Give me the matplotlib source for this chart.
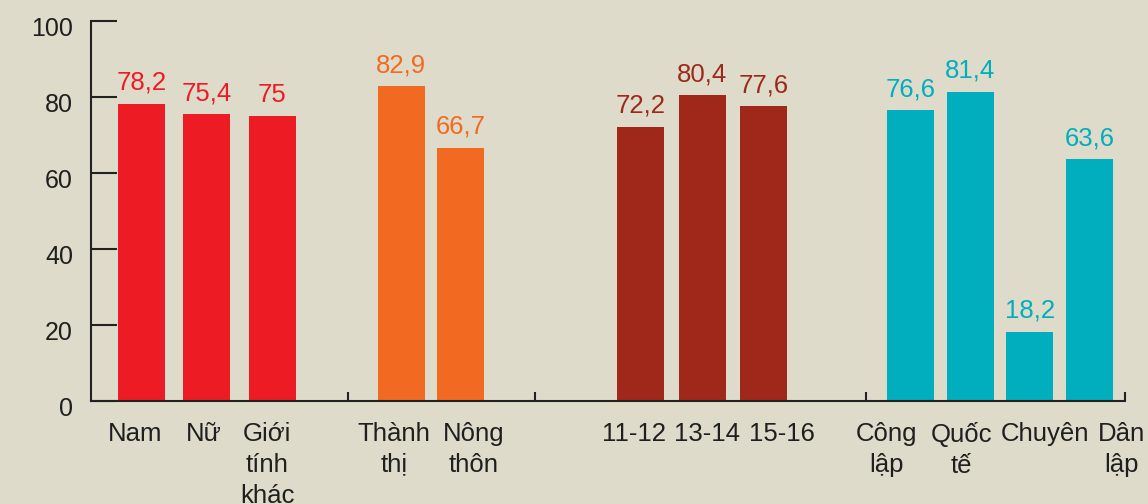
import matplotlib
matplotlib.use("Agg")
import matplotlib.pyplot as plt
import matplotlib.transforms as mtransforms

# nhóm: giới tính, khu vực, độ tuổi, loại trường
gioi_tinh = ["Nam", "Nữ", "Giới\ntính\nkhác"]
gioi_tinh_pct = [78.2, 75.4, 75]

khu_vuc = ["Thành\nthị", "Nông\nthôn"]
khu_vuc_pct = [82.9, 66.7]

do_tuoi = ["11-12", "13-14", "15-16"]
do_tuoi_pct = [72.2, 80.4, 77.6]

loai_truong = ["Công\nlập", "Quốc\ntế", "Chuyên", "Dân\nlập"]
loai_truong_pct = [76.6, 81.4, 18.2, 63.6]

y_ticks = [0, 20, 40, 60, 80, 100]

NEN = "#dfdbca"
MAU_CHU = "#1f1f1f"
mau_nhom = ["#ed1c24", "#f26a22", "#a0281a", "#00aebd"]
mau_so = ["#ed1c24", "#f26a22", "#9c2a1b", "#00aebd"]

# vị trí cột (đơn vị pixel trên trục x)
bat_dau = [141.5, 401, 640.5, 910.5]
buoc = [65.25, 59.5, 61.5, 59.7]
lech_nhan = [[-6, -3, -5], [-7, 13], [-6, 4.5, 18.5], [-24, -8.5, 15.5, 32]]
vach_chia = [348, 535, 866, 1125]


def so_vn(v):
    return f"{v:g}".replace(".", ",")


def main():
    plt.rcParams["font.family"] = ["Liberation Sans", "DejaVu Sans"]
    fig = plt.figure(figsize=(11.48, 5.04), dpi=100, facecolor=NEN)
    ax = fig.add_axes([91 / 1148, 103 / 504, (1125 - 91) / 1148, 380 / 504])
    ax.set_facecolor(NEN)

    nhom = [
        (gioi_tinh, gioi_tinh_pct),
        (khu_vuc, khu_vuc_pct),
        (do_tuoi, do_tuoi_pct),
        (loai_truong, loai_truong_pct),
    ]
    for g, (nhan, giatri) in enumerate(nhom):
        xs = [bat_dau[g] + i * buoc[g] for i in range(len(giatri))]
        ax.bar(xs, giatri, width=47, color=mau_nhom[g], zorder=2)
        for i, (x, v) in enumerate(zip(xs, giatri)):
            ax.annotate(so_vn(v), (x, v), xytext=(0, 10), textcoords="offset points",
                        ha="center", va="baseline", fontsize=18.5, color=mau_so[g])
            ax.annotate(nhan[i], (x, 0), xytext=(lech_nhan[g][i] * 0.72, -15),
                        textcoords="offset points", ha="center", va="top",
                        multialignment="center", linespacing=1.36,
                        fontsize=18.5, color=MAU_CHU, annotation_clip=False)

    ax.set_xlim(91, 1125)
    ax.set_ylim(0, 100)

    for s in ["top", "right"]:
        ax.spines[s].set_visible(False)
    for s in ["left", "bottom"]:
        ax.spines[s].set_color("#222222")
        ax.spines[s].set_linewidth(1.5)

    ax.set_yticks(y_ticks)
    ax.tick_params(axis="y", direction="in", length=18.7, width=1.5,
                   color="#222222", pad=13, labelsize=18, labelcolor=MAU_CHU)
    dich = mtransforms.ScaledTranslation(0, -5 / 100, fig.dpi_scale_trans)
    for lb in ax.get_yticklabels():
        lb.set_transform(lb.get_transform() + dich)

    ax.set_xticks(vach_chia)
    ax.set_xticklabels([])
    ax.tick_params(axis="x", direction="in", length=6.5, width=1.5, color="#222222")

    fig.savefig("out.png", dpi=100, facecolor=NEN)


if __name__ == "__main__":
    main()
